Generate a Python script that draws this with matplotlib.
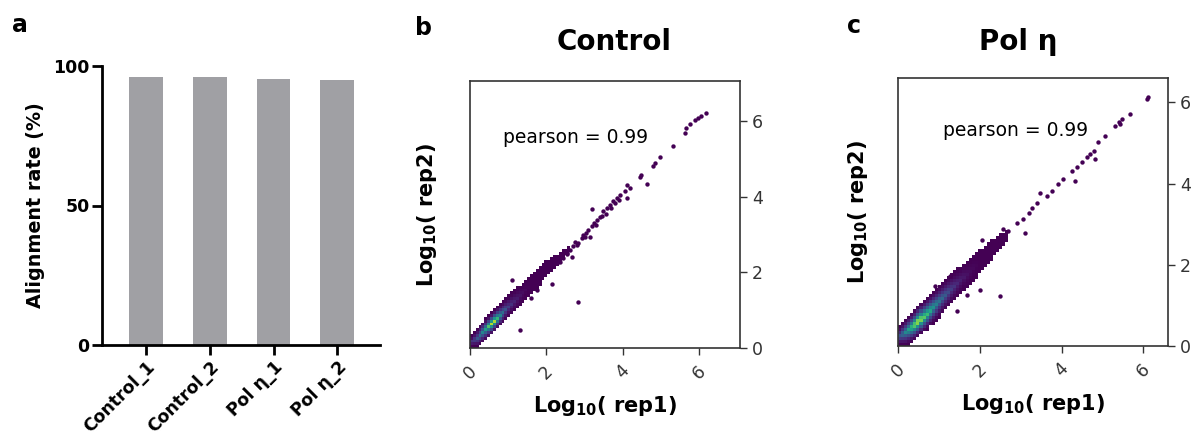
import numpy as np
import matplotlib
matplotlib.use('Agg')
import matplotlib.pyplot as plt

plt.rcParams['font.family'] = ['DejaVu Sans']
plt.rcParams['mathtext.default'] = 'bf'

# ---------------- data ----------------
categories = ['Control_1', 'Control_2', 'Pol \u03b7_1', 'Pol \u03b7_2']
alignment_rate = [95.9, 95.9, 95.3, 95.1]

# dense cloud profile (column x, lower/upper y edge of cloud, density level 0-1)
ctrl_band_x = [0.0, 0.2, 0.4, 0.6, 0.8, 1.0, 1.2, 1.4, 1.6, 1.8, 2.0, 2.2, 2.4, 2.6]
ctrl_band_lo = [0.0, 0.0, 0.18, 0.38, 0.58, 0.78, 0.98, 1.2, 1.42, 1.64, 1.86, 2.1, 2.32, 2.55]
ctrl_band_hi = [0.3, 0.55, 0.78, 0.98, 1.18, 1.38, 1.58, 1.76, 1.94, 2.12, 2.3, 2.45, 2.58, 2.7]
ctrl_band_lev = [0.15, 0.3, 0.55, 1.0, 0.45, 0.2, 0.08, 0.03, 0, 0, 0, 0, 0, 0]

pol_band_x = [0.0, 0.2, 0.4, 0.5, 0.7, 0.9, 1.1, 1.3, 1.5, 1.7, 1.9, 2.1, 2.3, 2.5, 2.7]
pol_band_lo = [0.0, 0.0, 0.12, 0.22, 0.4, 0.6, 0.8, 1.0, 1.22, 1.45, 1.66, 1.9, 2.14, 2.38, 2.62]
pol_band_hi = [0.45, 0.7, 0.9, 1.0, 1.18, 1.38, 1.58, 1.78, 1.95, 2.12, 2.3, 2.46, 2.6, 2.74, 2.85]
pol_band_lev = [0.25, 0.5, 0.85, 1.0, 0.75, 0.5, 0.35, 0.2, 0.1, 0.04, 0.01, 0, 0, 0, 0]

# sparse points (log10 rep1, log10 rep2)
ctrl_x = [6.18, 6.06, 5.98, 5.89, 5.76, 5.65, 5.63, 5.31, 4.97, 4.84, 4.78, 4.49, 4.45,
          4.63, 4.10, 4.19, 4.06, 4.10, 3.93, 3.84, 3.75, 3.66, 3.58, 3.49, 3.40, 3.20,
          3.32, 3.19, 3.10, 3.05, 3.14, 2.92, 2.84, 2.70, 2.62, 2.53, 2.66, 2.44, 2.36,
          2.27, 2.14, 1.09, 1.75, 1.61, 2.84, 1.31, 2.30, 2.40, 2.50, 2.55, 2.75, 2.80,
          2.95, 3.00, 3.25, 3.30, 3.45, 3.55, 3.70, 3.80, 3.90]
ctrl_y = [6.22, 6.15, 6.09, 6.05, 5.92, 5.83, 5.69, 5.36, 5.07, 4.90, 4.81, 4.59, 4.54,
          4.34, 4.32, 4.24, 4.15, 3.97, 4.06, 3.97, 3.88, 3.79, 3.71, 3.62, 3.48, 3.68,
          3.40, 3.22, 3.13, 3.04, 2.95, 2.91, 2.78, 2.69, 2.60, 2.51, 2.42, 2.38, 2.29,
          2.25, 1.69, 1.80, 1.54, 1.32, 1.23, 0.48, 2.35, 2.42, 2.55, 2.50, 2.80, 2.72,
          3.00, 2.95, 3.30, 3.25, 3.50, 3.55, 3.72, 3.85, 3.92]

pol_x = [6.12, 6.08, 5.67, 5.47, 5.39, 5.31, 5.43, 5.06, 4.90, 4.78, 4.69, 4.61, 4.82,
         4.49, 4.37, 4.25, 4.33, 4.04, 3.92, 3.76, 3.47, 3.64, 3.39, 3.27, 3.19, 3.06,
         2.90, 3.11, 2.57, 2.70, 2.49, 2.41, 2.05, 2.29, 2.17, 2.05, 2.00, 1.68, 2.00,
         2.49, 1.44, 0.90, 1.27]
pol_y = [6.13, 6.09, 5.72, 5.59, 5.51, 5.43, 5.47, 5.18, 5.02, 4.81, 4.73, 4.65, 4.60,
         4.52, 4.40, 4.31, 4.07, 4.11, 3.99, 3.82, 3.78, 3.70, 3.53, 3.41, 3.28, 3.12,
         3.04, 2.79, 2.87, 2.83, 2.62, 2.54, 2.62, 2.42, 2.29, 2.13, 2.05, 1.26, 1.39,
         1.22, 0.85, 1.47, 1.72]

pearson_text = 'pearson = 0.99'
scatter_ticks = [0, 2, 4, 6]

# ---------------- figure ----------------
W, H = 1201, 438
fig = plt.figure(figsize=(W / 100, H / 100), dpi=100)


def fr(x0, y_top, x1, y_bot):
    return [x0 / W, 1 - y_bot / H, (x1 - x0) / W, (y_bot - y_top) / H]


# ----- panel a -----
axa = fig.add_axes(fr(102, 66, 380, 345))
xpos = np.arange(len(categories))
axa.bar(xpos, alignment_rate, width=0.53, color='#a0a0a4')
axa.set_xlim(-0.69, 3.67)
axa.set_ylim(0, 100)
for s in ['top', 'right']:
    axa.spines[s].set_visible(False)
for s in ['left', 'bottom']:
    axa.spines[s].set_linewidth(2.0)
axa.set_yticks([0, 50, 100])
axa.set_xticks(xpos)
axa.set_xticklabels(categories, rotation=45, ha='right', rotation_mode='anchor',
                    fontweight='bold', fontsize=12.5)
axa.set_yticklabels(['0', '50', '100'], fontweight='bold', fontsize=12.5)
axa.tick_params(width=2.0, length=7, pad=2)
axa.set_ylabel('Alignment rate (%)', fontweight='bold', fontsize=13.8, labelpad=6)


def draw_scatter(ax, bx, lo, hi, lev, px, py, lim):
    step = 0.075
    edges = np.arange(0, lim + step, step)
    centers = edges[:-1] + step / 2
    Z = np.full((len(centers), len(centers)), np.nan)
    for i, xc in enumerate(centers):
        if xc > bx[-1]:
            break
        l = np.interp(xc, bx, lo)
        h = np.interp(xc, bx, hi)
        lv = np.interp(xc, bx, lev)
        for j, yc in enumerate(centers):
            if l <= yc <= h:
                t = (yc - l) / (h - l)
                Z[j, i] = lv * (1 - abs(2 * t - 1)) ** 2.0
    ax.pcolormesh(edges, edges, np.ma.masked_invalid(Z), cmap='viridis',
                  vmin=0, vmax=1, shading='flat')
    ax.scatter(px, py, s=10, marker='o', color='#440154', linewidths=0, zorder=3)
    ax.set_xlim(0, lim)
    ax.set_ylim(0, lim)
    ax.yaxis.tick_right()
    ax.yaxis.set_label_position('left')
    ax.set_xticks(scatter_ticks)
    ax.set_yticks(scatter_ticks)
    ax.tick_params(colors='#333333', labelcolor='#333333', labelsize=12.5,
                   length=5, width=1)
    ax.tick_params(axis='x', pad=5)
    for lab in ax.get_xticklabels():
        lab.set_rotation(45)
        lab.set_ha('center')
    for s in ax.spines.values():
        s.set_linewidth(1.2)
        s.set_color('#333333')
    ax.set_xlabel('Log$_{10}$( rep1)', fontweight='bold', fontsize=15, labelpad=8)


# ----- panel b -----
axb = fig.add_axes(fr(470, 81, 740, 348))
draw_scatter(axb, ctrl_band_x, ctrl_band_lo, ctrl_band_hi, ctrl_band_lev,
             ctrl_x, ctrl_y, 7.07)
axb.set_ylabel('Log$_{10}$( rep2)', fontweight='bold', fontsize=15, labelpad=22)
axb.text(0.86, 5.57, pearson_text, fontsize=13.5, va='center', ha='left')

# ----- panel c -----
axc = fig.add_axes(fr(898, 78, 1168, 346))
draw_scatter(axc, pol_band_x, pol_band_lo, pol_band_hi, pol_band_lev,
             pol_x, pol_y, 6.6)
axc.set_ylabel('Log$_{10}$( rep2)', fontweight='bold', fontsize=15, labelpad=20)
axc.text(1.1, 5.3, pearson_text, fontsize=13.5, va='center', ha='left')

# titles and panel letters
fig.text(614 / W, 1 - 50 / H, 'Control', ha='center', va='baseline',
         fontsize=20, fontweight='bold')
fig.text(1018 / W, 1 - 50 / H, 'Pol \u03b7', ha='center', va='baseline',
         fontsize=20, fontweight='bold')
fig.text(12 / W, 1 - 32 / H, 'a', fontsize=17, fontweight='bold', va='baseline')
fig.text(415 / W, 1 - 35 / H, 'b', fontsize=17, fontweight='bold', va='baseline')
fig.text(847 / W, 1 - 33 / H, 'c', fontsize=17, fontweight='bold', va='baseline')

fig.savefig('out.png', dpi=100, facecolor='white')
